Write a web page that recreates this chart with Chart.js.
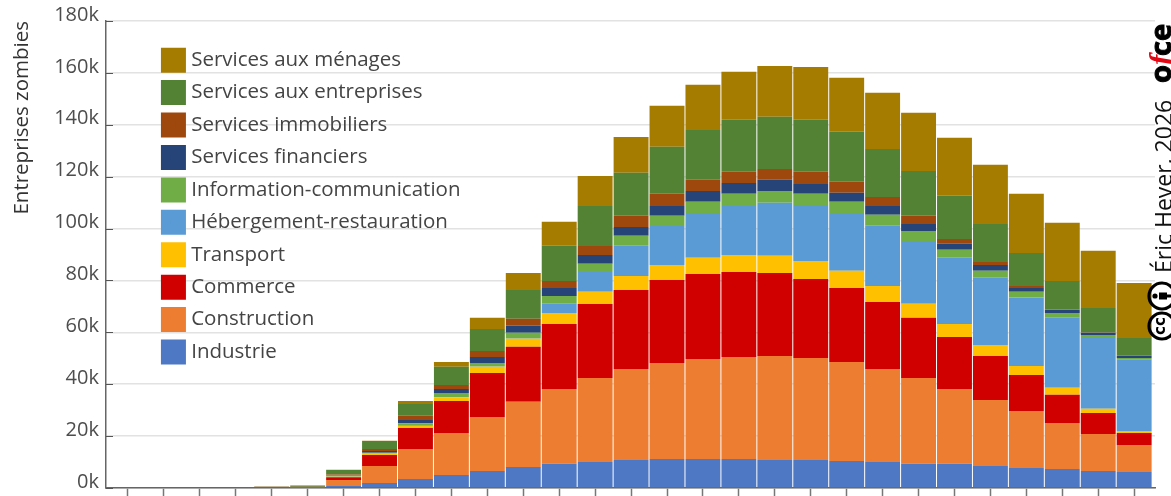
<!DOCTYPE html>
<html>
<head>
<meta charset="utf-8">
<title>Entreprises zombies</title>
<script src="https://cdn.jsdelivr.net/npm/chart.js@4"></script>
<style>
    html, body { margin: 0; padding: 0; background: #fff; }
    canvas { display: block; }
</style>
</head>
<body>
<canvas id="zombies" width="1171" height="496"></canvas>
<script>
    // positions on the time axis, the reference shows no labels under the ticks
    const periods = [0, 1, 2, 3, 4, 5, 6, 7, 8, 9, 10, 11, 12, 13, 14, 15, 16, 17, 18, 19, 20, 21, 22, 23, 24, 25, 26, 27, 28];
    const yTicks = [0, 20, 40, 60, 80, 100, 120, 140, 160, 180];

    // values in thousands of firms
    const industrie = [0, 0, 0, 0, .05, .1, .8, 1.9, 3.5, 5, 6.6, 8.1, 9.3, 10, 10.8, 11.2, 11.2, 11.2, 10.8, 10.8, 10.4, 10, 9.3, 9.3, 8.5, 7.7, 7.3, 6.6, 6.2];
    const construction = [0, 0, 0, 0, .05, .1, 2.3, 6.6, 11.5, 16.2, 20.8, 25.1, 28.9, 32.4, 35.1, 37, 38.5, 39.3, 40.1, 39.3, 38.2, 35.9, 33.1, 28.9, 25.4, 22, 17.8, 14.2, 10.4];
    const commerce = [0, 0, 0, 0, .05, .1, 1, 4.2, 8.1, 12.3, 16.9, 21.2, 25, 28.5, 30.4, 32, 32.8, 32.8, 32, 30.5, 28.5, 25.8, 23.2, 20, 17, 13.9, 10.8, 8.1, 4.6];
    const transport = [0, 0, 0, 0, .01, .02, .2, .5, .8, 1.5, 2.4, 3.1, 4.3, 4.7, 5.4, 5.8, 6.2, 6.5, 6.6, 6.9, 6.6, 6.2, 5.4, 5, 4.2, 3.4, 2.7, 1.6, .8];
    const hebergement = [0, 0, 0, 0, .01, .02, .1, .2, .1, .1, .1, .1, 3.5, 7.7, 11.7, 15, 17.3, 18.9, 20.4, 21.6, 22.3, 23.4, 24.2, 25.5, 25.9, 26.4, 27, 27.3, 27.4];
    const information = [0, 0, 0, 0, .01, .02, .3, .2, 1, 1.5, 1.4, 2.2, 3, 3.1, 3.8, 3.9, 4.3, 4.7, 4.6, 4.3, 4.3, 4, 3.9, 3.1, 2.7, 2.2, 1.9, 1.2, .7];
    const financiers = [0, 0, 0, 0, .02, .04, .2, .7, 1.2, 1.6, 2.3, 2.8, 3.1, 3.4, 3.4, 3.8, 4.2, 4.2, 4.3, 3.8, 3.5, 3.4, 2.7, 2.3, 2.3, 1.5, 1.1, .8, .8];
    const immobiliers = [0, 0, 0, 0, .3, .1, .3, .7, 1.6, 1.5, 2.3, 2.6, 2.7, 3.5, 4.3, 4.7, 4.3, 4.3, 4.2, 4.7, 4.2, 3.5, 3.1, 1.9, 1.1, .8, .2, .1, .1];
    const entreprises = [0, 0, 0, 0, .08, .48, 1.7, 3.1, 4.6, 7, 8.5, 11.1, 13.6, 15.4, 16.6, 18.1, 19.2, 20, 20.1, 20, 19.3, 18.5, 17.3, 16.6, 14.7, 12.7, 11, 9.5, 6.8];
    const menages = [0, 0, 0, 0, .02, .02, .1, .1, 1.1, 1.9, 4.3, 6.6, 9.2, 11.6, 13.8, 15.8, 17.4, 18.5, 19.6, 20.4, 20.8, 21.6, 22.4, 22.4, 22.8, 22.8, 22.4, 22, 21.2];

    const seriesNames = ["Industrie", "Construction", "Commerce", "Transport", "Hébergement-restauration", "Information-communication", "Services financiers", "Services immobiliers", "Services aux entreprises", "Services aux ménages"];
    const seriesValues = [industrie, construction, commerce, transport, hebergement, information, financiers, immobiliers, entreprises, menages];
    const seriesColors = ["#4e78c4", "#ed7d31", "#d00000", "#ffc000", "#5b9bd5", "#70ad47", "#264478", "#9e480e", "#548235", "#a67c00"];

    const datasets = [];
    for (let i = 0; i < seriesNames.length; i++) {
        datasets.push({
            label: seriesNames[i],
            data: seriesValues[i],
            backgroundColor: seriesColors[i],
            borderWidth: 0,
            barPercentage: 1,
            categoryPercentage: 0.972
        });
    }

    // y ticks point inwards, moves the legend inside the plot, and the credit on the right
    const extras = {
        id: "extras",
        afterUpdate: function(chart) {
            chart.legend.left = 154;
            chart.legend.top = 38;
        },
        afterDatasetsDraw: function(chart) {
            const ctx = chart.ctx;
            const y = chart.scales.y;
            ctx.save();
            ctx.strokeStyle = "#555";
            ctx.lineWidth = 1;
            y.ticks.forEach(function(t) {
                const py = Math.round(y.getPixelForValue(t.value)) + 0.5;
                ctx.beginPath();
                ctx.moveTo(chart.chartArea.left, py);
                ctx.lineTo(chart.chartArea.left + 7, py);
                ctx.stroke();
            });
            ctx.restore();
        },
        afterDraw: function(chart) {
            const ctx = chart.ctx;
            ctx.save();
            ctx.translate(1171, 0);
            ctx.rotate(-Math.PI / 2);
            // after the rotation x runs upwards (-y on screen) and y runs to the right
            ctx.textBaseline = "alphabetic";
            ctx.fillStyle = "#111";
            ctx.font = "23px 'Open Sans'";
            ctx.fillText("Éric Hever, 2026", -273, 1);

            ctx.lineWidth = 1;
            ctx.strokeStyle = "#000";
            ctx.fillStyle = "#000";
            ctx.font = "bold 29px 'Open Sans'";
            ctx.fillText("o", -83, 0);
            ctx.strokeText("o", -83, 0);
            ctx.fillStyle = "#e30613";
            ctx.font = "italic bold 31px 'Liberation Serif'";
            ctx.fillText("f", -65, 0);
            ctx.fillStyle = "#000";
            ctx.font = "bold 29px 'Open Sans'";
            ctx.fillText("ce", -56, 0);
            ctx.strokeText("ce", -56, 0);

            // cc and person badges
            ctx.strokeStyle = "#000";
            ctx.lineWidth = 3.2;
            ctx.beginPath();
            ctx.arc(-326, -9, 13, 0, Math.PI * 2);
            ctx.stroke();
            ctx.beginPath();
            ctx.arc(-296, -9, 13, 0, Math.PI * 2);
            ctx.stroke();
            ctx.font = "bold 15px 'DejaVu Sans'";
            ctx.textAlign = "center";
            ctx.textBaseline = "middle";
            ctx.fillText("cc", -326, -10);
            ctx.beginPath();
            ctx.arc(-296, -16, 2.6, 0, Math.PI * 2);
            ctx.fill();
            ctx.fillRect(-299.5, -12, 7, 8);
            ctx.fillRect(-297.5, -5, 3, 5);
            ctx.restore();
        }
    };

    new Chart(document.getElementById("zombies"), {
        type: "bar",
        data: { labels: periods, datasets: datasets },
        plugins: [extras],
        options: {
            responsive: false,
            animation: false,
            layout: { padding: { top: 21, right: 16, left: 0, bottom: 0 } },
            plugins: {
                tooltip: { enabled: false },
                legend: {
                    position: "chartArea",
                    align: "start",
                    reverse: true,
                    labels: {
                        font: { family: "'Open Sans'", size: 20.5 },
                        color: "#444",
                        boxWidth: 15,
                        boxHeight: 15,
                        padding: 11.93,
                        // a thick stroke round a small box puts the text nearer the swatch
                        generateLabels: function(chart) {
                            return chart.data.datasets.map(function(d, i) {
                                return { text: d.label, fillStyle: d.backgroundColor, strokeStyle: d.backgroundColor, lineWidth: 10, fontColor: "#444", datasetIndex: i };
                            });
                        }
                    }
                }
            },
            scales: {
                x: {
                    type: "linear",
                    stacked: true,
                    offset: false,
                    min: -0.612,
                    max: 28.58,
                    afterBuildTicks: function(scale) {
                        scale.ticks = periods.map(function(p) { return { value: p }; });
                    },
                    afterFit: function(scale) { scale.height = 8; },
                    ticks: { display: false },
                    border: { color: "#666", width: 1.5 },
                    grid: { offset: false, drawOnChartArea: false, drawTicks: true, tickLength: 8, tickColor: "#777", tickWidth: 1.5 }
                },
                y: {
                    stacked: true,
                    min: 0,
                    max: 180,
                    afterBuildTicks: function(scale) {
                        scale.ticks = yTicks.map(function(v) { return { value: v }; });
                    },
                    afterFit: function(scale) {
                        scale.width = 106;
                        scale.paddingBottom = 0;
                        scale.paddingTop = 0;
                    },
                    ticks: {
                        padding: 7,
                        labelOffset: -6,
                        color: "#4d4d4d",
                        font: { family: "'Open Sans'", size: 20 },
                        callback: function(v) { return v + "k"; }
                    },
                    border: { color: "#666", width: 1.5 },
                    grid: { color: "#e2e2e2", lineWidth: 1.5, drawTicks: false },
                    title: {
                        display: true,
                        text: "Entreprises zombies",
                        align: "end",
                        color: "#333",
                        font: { family: "'Open Sans'", size: 20.5 },
                        padding: { top: 10, bottom: 0 }
                    }
                }
            }
        }
    });
</script>
</body>
</html>
